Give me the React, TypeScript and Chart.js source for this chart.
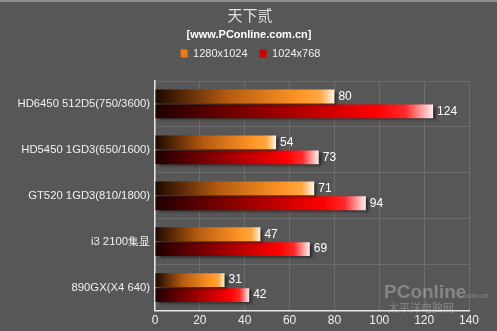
import React, { useEffect, useRef } from "react";
import { Chart, registerables } from "chart.js";

Chart.register(...registerables);

const titleText = "天下贰";
const subtitleText = "[www.PConline.com.cn]";
const categories = [
  "HD6450 512D5(750/3600)",
  "HD5450 1GD3(650/1600)",
  "GT520 1GD3(810/1800)",
  "i3 2100集显",
  "890GX(X4 640)",
];
const seriesNames = ["1280x1024", "1024x768"];
const values1280 = [80, 54, 71, 47, 31];
const values1024 = [124, 73, 94, 69, 42];
const xTicks = [0, 20, 40, 60, 80, 100, 120, 140];

const FONT = "'Liberation Sans', Arial, sans-serif";

function makeGradient(ctx: any, kind: number) {
  const chart = ctx.chart;
  const area = chart.chartArea;
  const fallback = kind === 0 ? "#f08a20" : "#e00000";
  if (!area || ctx.type !== "data") return fallback;
  const xs = chart.scales.x;
  if (!xs) return fallback;
  const v = ctx.raw as number;
  const x0 = xs.getPixelForValue(0);
  const x1 = xs.getPixelForValue(v);
  if (!isFinite(x0) || !isFinite(x1) || x1 - x0 < 1) return fallback;
  const g = chart.ctx.createLinearGradient(x0, 0, x1, 0);
  if (kind === 0) {
    g.addColorStop(0, "#1c0800");
    g.addColorStop(0.4, "#b45a10");
    g.addColorStop(0.8, "#ff9424");
    g.addColorStop(0.92, "#ffa840");
    g.addColorStop(1, "#fff4e4");
  } else {
    g.addColorStop(0, "#200000");
    g.addColorStop(0.45, "#a00000");
    g.addColorStop(0.8, "#ff0000");
    g.addColorStop(0.9, "#ff2a2a");
    g.addColorStop(1, "#fff0f0");
  }
  return g;
}

const shadowPlugin = {
  id: "barShadow",
  beforeDatasetsDraw(chart: any) {
    const c = chart.ctx;
    c.save();
    c.shadowColor = "rgba(0,0,0,0.55)";
    c.shadowOffsetX = 3;
    c.shadowOffsetY = 2;
    c.shadowBlur = 3;
  },
  afterDatasetsDraw(chart: any) {
    chart.ctx.restore();
  },
};

const labelPlugin = {
  id: "valueLabels",
  afterDatasetsDraw(chart: any) {
    const c = chart.ctx;
    c.save();
    c.font = `12px ${FONT}`;
    c.fillStyle = "#ffffff";
    c.textAlign = "left";
    c.textBaseline = "middle";
    chart.data.datasets.forEach((ds: any, i: number) => {
      const meta = chart.getDatasetMeta(i);
      meta.data.forEach((el: any, j: number) => {
        c.fillText(String(ds.data[j]), el.x + 4, el.y);
      });
    });
    c.restore();
  },
};

const headerPlugin = {
  id: "header",
  afterInit(chart: any) {
    const lg = chart.legend;
    if (lg && !lg.__patched) {
      const orig = lg.fit;
      lg.fit = function () {
        orig.call(this);
        this.height += 12;
      };
      lg.__patched = true;
    }
  },
  afterLayout(chart: any) {
    const lg = chart.legend;
    if (lg) {
      lg.left += 14;
      lg.right += 14;
    }
  },
  afterDraw(chart: any) {
    const c = chart.ctx;
    c.save();
    c.textAlign = "center";
    c.textBaseline = "middle";
    c.fillStyle = "#e0e0e0";
    c.font = `15px 'Noto Sans CJK SC', sans-serif`;
    c.fillText(titleText, 250, 15);
    c.fillStyle = "#ffffff";
    c.font = `bold 11px ${FONT}`;
    c.fillText(subtitleText, 249, 35);
    c.restore();
  },
};

const watermarkPlugin = {
  id: "watermark",
  afterDraw(chart: any) {
    const c = chart.ctx;
    c.save();
    c.globalAlpha = 0.28;
    c.fillStyle = "#ffffff";
    c.textAlign = "left";
    c.textBaseline = "alphabetic";
    c.font = `bold 19px ${FONT}`;
    c.fillText("PConline", 384, 298);
    c.font = `7px ${FONT}`;
    c.fillText(".com.cn", 464, 298);
    c.font = `11px 'Noto Sans CJK SC', sans-serif`;
    c.fillText("太平洋电脑网", 388, 312);
    c.restore();
  },
};

const bgPlugin = {
  id: "bg",
  beforeDraw(chart: any) {
    const c = chart.ctx;
    c.save();
    c.fillStyle = "#575757";
    c.fillRect(0, 0, chart.width, chart.height);
    c.fillStyle = "#8a8a8a";
    c.fillRect(0, 0, chart.width, 2);
    c.restore();
  },
};

export default function App() {
  const ref = useRef<HTMLCanvasElement>(null);
  useEffect(() => {
    document.body.style.margin = "0";
    const canvas = ref.current!;
    const chart = new Chart(canvas, {
      type: "bar",
      data: {
        labels: categories,
        datasets: [
          {
            label: seriesNames[0],
            data: values1280,
            backgroundColor: (ctx: any) => makeGradient(ctx, 0),
            borderWidth: 0,
            barPercentage: 0.93,
            categoryPercentage: 0.65,
          },
          {
            label: seriesNames[1],
            data: values1024,
            backgroundColor: (ctx: any) => makeGradient(ctx, 1),
            borderWidth: 0,
            barPercentage: 0.93,
            categoryPercentage: 0.65,
          },
        ],
      },
      options: {
        indexAxis: "y",
        animation: false,
        responsive: false,
        maintainAspectRatio: false,
        layout: { padding: { left: 4, right: 28, top: 36, bottom: 0 } },
        plugins: {
          title: { display: false },
          subtitle: { display: false },
          legend: {
            display: true,
            position: "top",
            labels: {
              color: "#f0f0f0",
              font: { family: FONT, size: 11 },
              boxWidth: 7,
              boxHeight: 8,
              padding: 12,
              generateLabels: (chart: any) =>
                chart.data.datasets.map((ds: any, i: number) => ({
                  text: ds.label,
                  fillStyle: i === 0 ? "#f07a10" : "#d00000",
                  strokeStyle: "#222",
                  lineWidth: 0,
                  fontColor: "#f0f0f0",
                  datasetIndex: i,
                  hidden: false,
                })),
            },
          },
          tooltip: { enabled: false },
        },
        scales: {
          x: {
            min: 0,
            max: 140,
            afterBuildTicks: (axis: any) => {
              axis.ticks = xTicks.map((v) => ({ value: v }));
            },
            ticks: {
              color: "#f0f0f0",
              font: { family: FONT, size: 12 },
              padding: 3,
            },
            grid: {
              color: "#6c6c6c",
              drawTicks: false,
            },
            border: { color: "#e8e8e8", width: 1.5 },
          },
          y: {
            afterFit: (axis: any) => {
              axis.width = 151;
            },
            ticks: {
              color: "#f0f0f0",
              font: { family: FONT, size: 11.3 },
              padding: 5,
            },
            grid: {
              color: "#6c6c6c",
              drawTicks: false,
              offset: true,
            },
            border: { color: "#e8e8e8", width: 1.5 },
          },
        },
      } as any,
      plugins: [bgPlugin, headerPlugin, shadowPlugin, labelPlugin, watermarkPlugin],
    });
    return () => chart.destroy();
  }, []);
  return (
    <div style={{ width: 497, height: 331 }}>
      <canvas ref={ref} width={497} height={331} style={{ display: "block" }} />
    </div>
  );
}
